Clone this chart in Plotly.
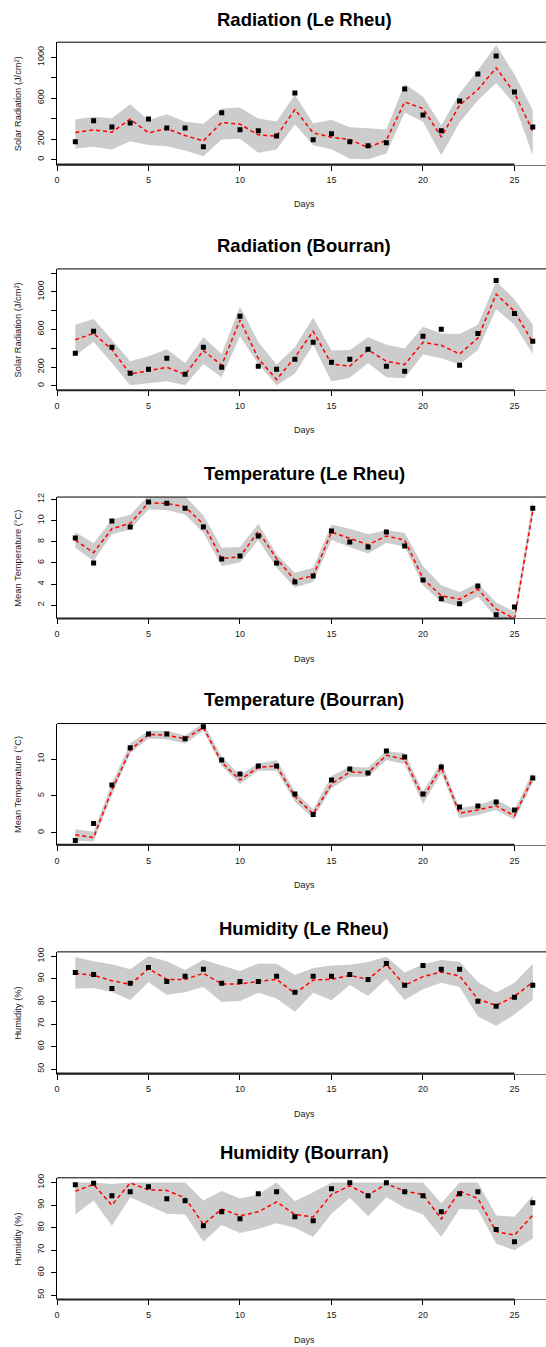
import plotly.graph_objects as go

W, H = 546, 1347
days = list(range(1, 27))

# ---------------- data ----------------
rad_lr_obs = [173, 378, 319, 358, 397, 309, 309, 124, 456, 290, 280, 231, 651, 192, 251, 173, 134, 163, 690, 436, 280, 573, 837, 1013, 661, 319]
rad_lr_pred = [264, 290, 267, 394, 261, 302, 234, 182, 362, 345, 241, 228, 489, 261, 218, 195, 117, 189, 563, 498, 221, 531, 684, 896, 650, 277]
rad_lr_low = [107, 124, 98, 179, 143, 130, 88, 33, 195, 202, 65, 98, 345, 140, 101, 7, 3, 59, 459, 368, 42, 362, 580, 749, 541, 42]
rad_lr_up = [391, 417, 404, 541, 384, 443, 368, 349, 498, 508, 401, 371, 632, 352, 388, 316, 306, 293, 739, 616, 335, 645, 873, 1117, 834, 482]

rad_bo_obs = [346, 580, 410, 134, 177, 293, 124, 410, 198, 739, 209, 177, 283, 463, 251, 283, 389, 209, 155, 527, 601, 219, 558, 1120, 770, 474]
rad_bo_pred = [491, 558, 385, 127, 159, 198, 120, 375, 219, 700, 290, 67, 304, 580, 233, 209, 382, 262, 226, 463, 431, 339, 509, 975, 792, 463]
rad_bo_low = [325, 466, 244, 7, 28, 49, 7, 233, 92, 527, 233, 7, 131, 438, 46, 85, 244, 92, 81, 332, 293, 226, 382, 816, 650, 339]
rad_bo_up = [650, 710, 491, 262, 315, 389, 244, 516, 339, 845, 466, 226, 410, 728, 375, 382, 516, 438, 396, 629, 558, 551, 650, 1110, 922, 650]

tmp_lr_obs = [8.35, 5.99, 9.96, 9.39, 11.75, 11.65, 11.18, 9.39, 6.37, 6.65, 8.54, 5.99, 4.2, 4.77, 9.01, 7.97, 7.5, 8.92, 7.6, 4.39, 2.6, 2.13, 3.82, 1.09, 1.84, 11.18]
tmp_lr_pred = [8.16, 6.97, 9.23, 9.74, 11.69, 11.62, 11.3, 9.67, 6.4, 6.59, 8.98, 6.4, 4.39, 4.77, 8.92, 8.29, 7.72, 8.54, 8.16, 4.52, 2.88, 2.57, 3.51, 1.62, 0.74, 10.9]
tmp_lr_low = [7.44, 6.18, 8.7, 9.17, 11.06, 11.0, 10.58, 8.86, 5.71, 6.03, 8.16, 5.55, 3.67, 4.2, 8.16, 7.5, 6.9, 7.91, 7.53, 3.89, 2.31, 1.87, 2.82, 0.84, 0.05, 10.4]
tmp_lr_up = [8.92, 7.85, 10.1, 10.55, 12.38, 12.3, 12.3, 10.5, 7.44, 7.5, 9.7, 6.81, 5.08, 5.55, 9.64, 9.23, 8.7, 9.1, 8.86, 5.71, 3.89, 3.26, 4.08, 2.25, 1.37, 11.9]

tmp_bo_obs = [-1.04, 1.26, 6.49, 11.53, 13.38, 13.38, 12.75, 14.37, 9.86, 7.97, 9.05, 9.05, 5.27, 2.48, 7.16, 8.65, 8.11, 11.08, 10.27, 5.27, 8.92, 3.51, 3.65, 4.19, 3.11, 7.43]
tmp_bo_pred = [-0.27, -0.63, 5.81, 11.22, 13.33, 13.24, 12.75, 14.28, 9.55, 7.16, 8.87, 9.05, 4.91, 2.57, 6.62, 8.24, 8.15, 10.5, 9.95, 4.82, 8.87, 2.66, 3.11, 3.65, 2.3, 7.43]
tmp_bo_low = [-1.04, -1.17, 5.14, 10.77, 12.79, 12.7, 12.12, 13.83, 9.05, 6.62, 8.42, 8.42, 4.23, 1.98, 6.04, 7.61, 7.61, 9.86, 9.32, 3.92, 8.06, 1.98, 2.43, 3.11, 1.76, 6.8]
tmp_bo_up = [0.5, 0.14, 6.71, 12.1, 13.83, 13.83, 13.2, 14.9, 10.3, 7.84, 9.41, 9.86, 5.59, 3.2, 7.7, 8.96, 8.87, 11.08, 10.77, 5.59, 9.64, 3.33, 3.78, 4.55, 3.11, 8.29]

hum_lr_obs = [92.9, 92.0, 85.8, 88.05, 95.1, 88.9, 91.15, 94.25, 88.05, 88.9, 88.9, 91.15, 84.1, 91.15, 91.15, 92.0, 89.8, 96.9, 87.2, 96.0, 94.25, 94.25, 80.1, 77.9, 81.9, 87.2]
hum_lr_pred = [92.5, 91.6, 89.2, 87.6, 94.5, 89.8, 89.8, 92.5, 87.8, 87.8, 88.9, 89.8, 83.6, 89.5, 89.8, 91.6, 89.8, 96.5, 87.2, 91.0, 93.1, 91.3, 81.0, 78.3, 82.2, 88.6]
hum_lr_low = [85.7, 86.0, 84.2, 80.7, 88.5, 83.0, 84.1, 86.4, 79.8, 80.2, 83.9, 81.3, 75.5, 83.9, 80.5, 87.3, 82.4, 90.1, 80.7, 85.4, 88.35, 86.4, 73.3, 69.2, 74.2, 80.7]
hum_lr_up = [99.7, 97.8, 96.5, 94.25, 100.1, 97.8, 94.0, 98.5, 96.0, 93.5, 96.9, 96.75, 91.7, 94.8, 96.0, 96.3, 97.5, 99.85, 92.8, 96.5, 98.4, 97.6, 88.6, 83.9, 88.35, 96.6]

hum_bo_obs = [98.97, 99.7, 94.1, 95.9, 98.1, 92.8, 91.9, 80.8, 87.0, 83.9, 95.0, 95.9, 84.8, 83.0, 97.2, 99.85, 94.1, 99.85, 95.9, 94.1, 87.0, 95.0, 95.9, 79.1, 73.7, 91.0]
hum_bo_pred = [96.2, 99.1, 90.0, 99.85, 96.75, 96.5, 93.2, 81.4, 88.2, 85.25, 87.0, 91.4, 85.8, 84.7, 94.7, 98.5, 94.4, 99.4, 96.2, 94.7, 83.8, 96.2, 92.9, 78.2, 76.7, 85.5]
hum_bo_low = [85.8, 92.0, 80.8, 93.5, 89.7, 86.1, 85.8, 73.7, 81.1, 77.6, 79.4, 81.9, 79.9, 75.8, 86.1, 93.2, 85.0, 93.5, 88.8, 85.8, 75.8, 88.2, 87.9, 72.9, 69.9, 75.1]
hum_bo_up = [100, 100, 99.4, 100, 100, 100, 100, 92.0, 96.2, 92.9, 94.7, 100, 91.7, 95.7, 100, 100, 100, 100, 100, 100, 90.85, 100, 100, 85.4, 84.8, 94.25]

titles = ["Radiation (Le Rheu)", "Radiation (Bourran)", "Temperature (Le Rheu)",
          "Temperature (Bourran)", "Humidity (Le Rheu)", "Humidity (Bourran)"]
ylabels = ["Solar Radiation (J/cm²)", "Solar Radiation (J/cm²)", "Mean Temperature (°C)",
           "Mean Temperature (°C)", "Humidity (%)", "Humidity (%)"]
xlabel = "Days"

x_tickvals = [0, 5, 10, 15, 20, 25]
y_tickvals = [
    [0, 200, 400, 600, 800, 1000],
    [0, 200, 400, 600, 800, 1000, 1200],
    [2, 4, 6, 8, 10, 12],
    [0, 5, 10],
    [50, 60, 70, 80, 90, 100],
    [50, 60, 70, 80, 90, 100],
]
y_ticktext = [
    ["0", "200", "", "600", "", "1000"],
    ["0", "200", "", "600", "", "1000", ""],
    ["2", "4", "6", "8", "10", "12"],
    ["0", "5", "10"],
    ["50", "60", "70", "80", "90", "100"],
    ["50", "60", "70", "80", "90", "100"],
]

series = [
    (rad_lr_obs, rad_lr_pred, rad_lr_low, rad_lr_up),
    (rad_bo_obs, rad_bo_pred, rad_bo_low, rad_bo_up),
    (tmp_lr_obs, tmp_lr_pred, tmp_lr_low, tmp_lr_up),
    (tmp_bo_obs, tmp_bo_pred, tmp_bo_low, tmp_bo_up),
    (hum_lr_obs, hum_lr_pred, hum_lr_low, hum_lr_up),
    (hum_bo_obs, hum_bo_pred, hum_bo_low, hum_bo_up),
]

# ---------------- layout (pixels) ----------------
plot_left = 54.3
x_range = [0, (W - plot_left) / 18.4]
center_x = 303
panel_px = [  # top, bottom, title y, days y
    (38.3, 161.0, 16.0, 201.0),
    (265.7, 387.3, 242.3, 427.3),
    (494.5, 616.3, 470.7, 656.7),
    (721.7, 843.3, 698.0, 884.0),
    (950.7, 1072.7, 927.3, 1113.3),
    (1177.3, 1299.3, 1152.3, 1340.0),
]
y_ranges = [[-49, 1147], [-46, 1244], [0.745, 12.23], [-1.62, 14.81], [48.05, 102.0], [48.1, 102.1]]

FONT = "Liberation Sans, Arial, Helvetica, sans-serif"
TXT = "#1a1a1a"

fig = go.Figure()
layout = dict(
    width=W, height=H, margin=dict(l=0, r=0, t=0, b=0),
    paper_bgcolor="white", plot_bgcolor="white", showlegend=False,
    font=dict(family=FONT, color=TXT, size=9),
)
annotations = []
shapes = []

def py(p):
    return 1 - p / H

for i, (obs, pred, low, up) in enumerate(series):
    k = "" if i == 0 else str(i + 1)
    xa, ya = "x" + k, "y" + k
    top, bot, ty, dy = panel_px[i]
    fig.add_trace(go.Scatter(x=days + days[::-1], y=up + low[::-1], fill="toself",
                             fillcolor="#CCCCCC", line=dict(width=0, color="#CCCCCC"),
                             mode="lines", hoverinfo="skip", xaxis=xa, yaxis=ya))
    fig.add_trace(go.Scatter(x=days, y=pred, mode="lines",
                             line=dict(color="red", width=1.5, dash="4px,3px"),
                             xaxis=xa, yaxis=ya))
    fig.add_trace(go.Scatter(x=days, y=obs, mode="markers",
                             marker=dict(symbol="square", size=5, color="black"),
                             xaxis=xa, yaxis=ya))
    layout["xaxis" + k] = dict(
        domain=[plot_left / W, 1], range=x_range, anchor=ya,
        tickvals=x_tickvals, ticks="outside", ticklen=5, tickcolor="black",
        showline=True, linecolor="#777777", linewidth=1, showgrid=False, zeroline=False,
        tickfont=dict(size=9, family=FONT, color=TXT), ticklabelstandoff=2,
    )
    layout["yaxis" + k] = dict(
        domain=[py(bot), py(top)], range=y_ranges[i], anchor=xa,
        tickvals=y_tickvals[i], ticktext=y_ticktext[i], tickangle=-90,
        ticks="outside", ticklen=5, tickcolor="black",
        showline=True, linecolor="black", linewidth=1, showgrid=False, zeroline=False,
        tickfont=dict(size=9, family=FONT, color=TXT), ticklabelstandoff=3,
    )
    # top of the box
    shapes.append(dict(type="line", xref=xa + " domain", yref=ya + " domain",
                       x0=0, x1=1, y0=1, y1=1, line=dict(color="black", width=1)))
    # axis line spanning the first to the last tick
    shapes.append(dict(type="line", xref=xa, yref=ya + " domain",
                       x0=x_tickvals[0], x1=x_tickvals[-1], y0=0, y1=0,
                       line=dict(color="#222222", width=2)))
    annotations.append(dict(text="<b>" + titles[i] + "</b>", x=center_x / W, y=py(ty),
                            xref="paper", yref="paper", showarrow=False,
                            xanchor="center", yanchor="middle",
                            font=dict(size=18.5, family=FONT, color="black")))
    annotations.append(dict(text=xlabel, x=center_x / W, y=py(dy),
                            xref="paper", yref="paper", showarrow=False,
                            xanchor="center", yanchor="middle",
                            font=dict(size=9, family=FONT, color=TXT)))
    annotations.append(dict(text=ylabels[i], x=15 / W, y=py((top + bot) / 2),
                            xref="paper", yref="paper", showarrow=False, textangle=-90,
                            xanchor="center", yanchor="middle",
                            font=dict(size=9.3, family=FONT, color=TXT)))

layout["annotations"] = annotations
layout["shapes"] = shapes
fig.update_layout(**layout)
fig.write_html("out.html")
